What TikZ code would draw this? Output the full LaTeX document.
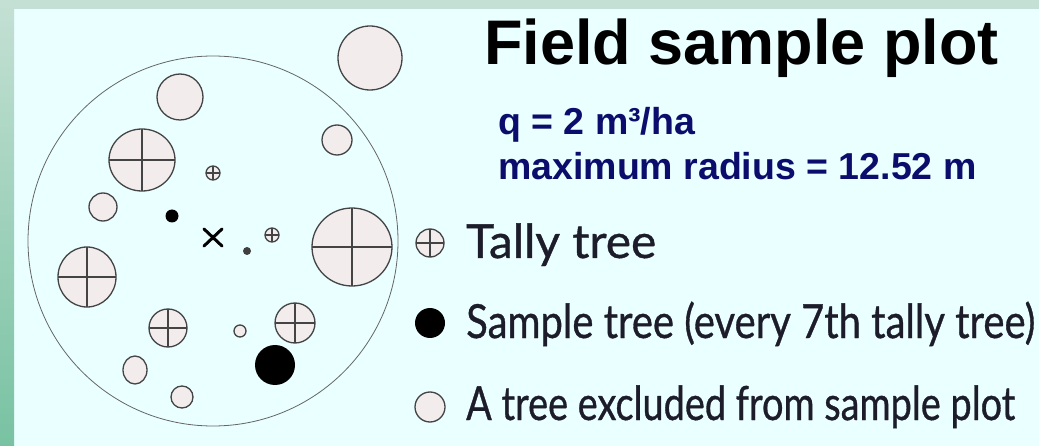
\documentclass[tikz,border=0pt]{standalone}
\usepackage{fontspec}
\setmainfont{Liberation Sans}
\newfontfamily\legfont[FakeBold=0.8]{Lato}
\usetikzlibrary{shapes.geometric}
\definecolor{bgc}{HTML}{EAFFFF}
\definecolor{stripc}{HTML}{C4E0D4}
\definecolor{stripb}{HTML}{78C2A2}
\definecolor{navy}{HTML}{0C0C6C}
\definecolor{legc}{HTML}{1C1C2A}
\definecolor{treefill}{HTML}{F2ECEC}
\definecolor{treeline}{HTML}{444444}
\tikzset{
  excl/.style={draw=treeline,line width=1.3pt,fill=treefill},
  tallyc/.style={draw=treeline,line width=1.3pt,fill=treefill},
  crossl/.style={draw=treeline,line width=1.1pt},
  sampl/.style={fill=black},
  legtext/.style={anchor=base west,inner sep=0pt,text=legc,font=\legfont\fontsize{47}{50}\selectfont},
}
\newcommand{\tally}[3]{%
  \fill[treefill] (#1,#2) circle (#3);
  \draw[crossl] (#1-#3,#2) -- (#1+#3,#2) (#1,#2-#3) -- (#1,#2+#3);
  \draw[tallyc,fill=none] (#1,#2) circle (#3);}
\newcommand{\tallye}[4]{%
  \fill[treefill] (#1,#2) ellipse [x radius=#3,y radius=#4];
  \draw[crossl] (#1-#3,#2) -- (#1+#3,#2) (#1,#2-#4) -- (#1,#2+#4);
  \draw[tallyc,fill=none] (#1,#2) ellipse [x radius=#3,y radius=#4];}
\newcommand{\fitw}[2]{\resizebox{#1}{\height}{#2}}
\begin{document}
\begin{tikzpicture}[x=1pt,y=-1pt]
\useasboundingbox (0,0) rectangle (1039,446);
\fill[bgc] (0,0) rectangle (1039,446);
\fill[stripc] (0,0) rectangle (1039,9);
\shade[top color=stripc,bottom color=stripb] (0,0) rectangle (14,446);
% plot boundary
\draw[draw=gray!80!black,line width=0.8pt] (213,241) circle (185);
% excluded trees
\draw[excl] (370,58) circle (32);
\draw[excl] (180,97) circle (23);
\draw[excl] (337,140) circle (15);
\draw[excl] (103,207) circle (14);
\draw[excl] (240,331) circle (6);
\draw[excl] (135,370) ellipse [x radius=12,y radius=14];
\draw[excl] (182,397) circle (11);
% tally trees
\tallye{142}{160}{33}{31}
\tally{213}{173}{7}
\tally{272}{235}{7}
\tallye{352}{247}{40}{39}
\tallye{87}{277}{29}{30}
\tally{168}{328}{19}
\tally{295}{323}{20}
% sample trees
\fill[sampl] (172,216) circle (6.5);
\fill[black!75] (247,251) circle (4);
\fill[sampl] (275,365) circle (20);
% plot centre
\draw[line width=3pt,line cap=round] (204,229) -- (222,246) (222,229) -- (204,246);
% title
\node[anchor=base west,inner sep=0pt,font=\bfseries\fontsize{63}{66}\selectfont] (title) at (484,65) {Field sample plot};
\node[anchor=base west,inner sep=0pt,text=navy,font=\bfseries\fontsize{37.5}{40}\selectfont] (q) at (498,135) {q = 2 m³/ha};
\node[anchor=base west,inner sep=0pt,text=navy,font=\bfseries\fontsize{37.5}{40}\selectfont] (rad) at (498,180) {maximum radius = 12.52 m};
% legend
\tally{430}{243}{14}
\fill[sampl] (430,323) circle (15);
\draw[excl] (430,407) circle (15);
\node[legtext] (l1) at (466,258) {\fitw{190pt}{Tally tree}};
\node[legtext] (l2) at (466,338) {\fitw{569pt}{Sample tree (every 7th tally tree)}};
\node[legtext] (l3) at (466,420) {\fitw{549pt}{A tree excluded from sample plot}};
\end{tikzpicture}
\end{document}
